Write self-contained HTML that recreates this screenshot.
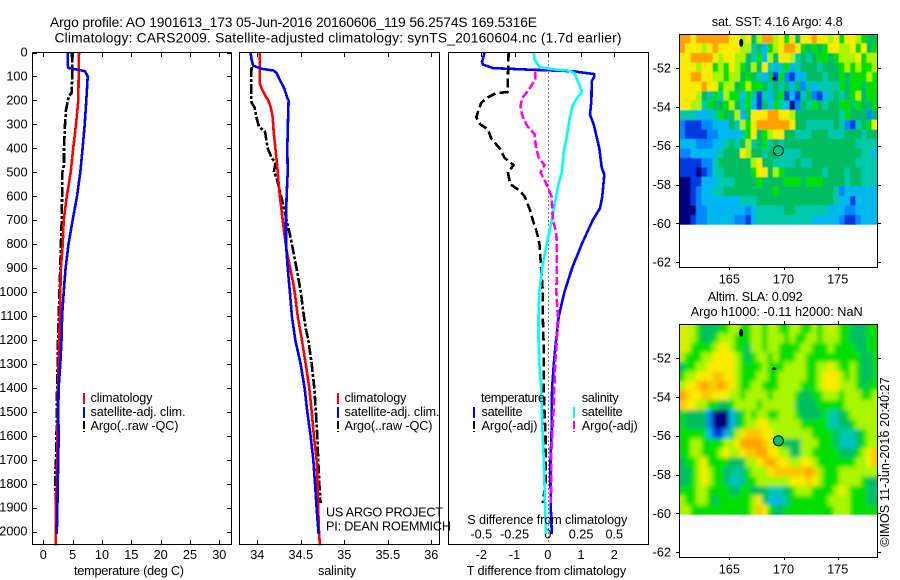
<!DOCTYPE html>
<html lang="en">
<head>
<meta charset="utf-8">
<title>Argo profile 1901613_173</title>
<style>
html,body{margin:0;padding:0;background:#fff;width:900px;height:580px;overflow:hidden}
svg{display:block}
text{font-family:"Liberation Sans",Arial,sans-serif;font-size:12.7px;fill:#000}
.title{font-size:13.8px}
</style>
</head>
<body>
<svg id="chart" xmlns="http://www.w3.org/2000/svg" width="900" height="580" viewBox="0 0 900 580">
<defs>
<filter id="blur-sst" x="-5%" y="-5%" width="110%" height="110%"><feGaussianBlur stdDeviation="0.6"/></filter>
<filter id="blur-sla" x="-5%" y="-5%" width="110%" height="110%"><feGaussianBlur stdDeviation="2"/></filter>
<clipPath id="clip-sst"><rect x="679.5" y="34" width="198" height="190.6"/></clipPath>
<clipPath id="clip-sla"><rect x="679.5" y="324" width="198" height="190.6"/></clipPath>
</defs>
<rect x="0" y="0" width="900" height="580" fill="#fff"/>
<text class="title" x="50" y="27" textLength="487" lengthAdjust="spacing">Argo profile: AO 1901613_173 05-Jun-2016 20160606_119 56.2574S 169.5316E</text>
<text class="title" x="54.5" y="42.5" textLength="567" lengthAdjust="spacing">Climatology: CARS2009. Satellite-adjusted climatology: synTS_20160604.nc (1.7d earlier)</text>
<g id="lines-layer"></g>
<g id="maps-layer"></g>
<g id="text-layer">
<text x="74" y="575" textLength="110" lengthAdjust="spacing">temperature (deg C)</text>
<text x="318" y="575" textLength="38" lengthAdjust="spacing">salinity</text>
<text x="466.7" y="575" textLength="159.5" lengthAdjust="spacing">T difference from climatology</text>
<text x="467.3" y="524" textLength="160" lengthAdjust="spacing">S difference from climatology</text>
<text x="90.5" y="402" textLength="62" lengthAdjust="spacing">climatology</text>
<text x="90.5" y="416" textLength="95" lengthAdjust="spacing">satellite-adj. clim.</text>
<text x="90.5" y="430" textLength="88" lengthAdjust="spacing">Argo(..raw -QC)</text>
<text x="344.5" y="402" textLength="62" lengthAdjust="spacing">climatology</text>
<text x="344.5" y="416" textLength="95" lengthAdjust="spacing">satellite-adj. clim.</text>
<text x="344.5" y="430" textLength="88" lengthAdjust="spacing">Argo(..raw -QC)</text>
<text x="481" y="402" textLength="64" lengthAdjust="spacing">temperature</text>
<text x="481.5" y="416" textLength="41" lengthAdjust="spacing">satellite</text>
<text x="481.5" y="430" textLength="56" lengthAdjust="spacing">Argo(-adj)</text>
<text x="581.7" y="402" textLength="37" lengthAdjust="spacing">salinity</text>
<text x="581.7" y="416" textLength="41" lengthAdjust="spacing">satellite</text>
<text x="581.7" y="430" textLength="56" lengthAdjust="spacing">Argo(-adj)</text>
<text x="326" y="516.7" textLength="117" lengthAdjust="spacing">US ARGO PROJECT</text>
<text x="326" y="530.7" textLength="125" lengthAdjust="spacing">PI: DEAN ROEMMICH</text>
<text x="711.7" y="26" textLength="131" lengthAdjust="spacing">sat. SST: 4.16 Argo: 4.8</text>
<text x="707.7" y="301" textLength="95" lengthAdjust="spacing">Altim. SLA: 0.092</text>
<text x="690.7" y="316" textLength="172" lengthAdjust="spacing">Argo h1000: -0.11 h2000: NaN</text>
<text transform="translate(889,546.7) rotate(-90)" x="0" y="0" textLength="169.5" lengthAdjust="spacing">©IMOS 11-Jun-2016 20:40:27</text>
</g>
</svg>
<script>
const depthTicks = [0,100,200,300,400,500,600,700,800,900,1000,1100,1200,1300,1400,1500,1600,1700,1800,1900,2000];
const tempTicks = [0,5,10,15,20,25,30];
const salTicks = [34,34.5,35,35.5,36];
const tDiffTicks = [-2,-1,0,1,2];
const sDiffTicks = [-0.5,-0.25,0,0.25,0.5];
const latTicks = [-52,-54,-56,-58,-60,-62];
const lonTicks = [165,170,175];

const tempClimDepth = [0,100,200,300,400,500,600,700,800,900,1000,1100,1200,1300,1400,1500,1600,1700,1800,1900,2000,2057];
const tempClim = [6.08,6.02,5.97,5.57,5.1,4.67,4.0,3.47,3.3,3.0,2.9,2.85,2.7,2.6,2.5,2.45,2.4,2.35,2.3,2.12,2.15,2.15];
const tempSatDepth = [0,50,65,72,78,100,150,200,300,400,500,600,700,800,900,1000,1100,1200,1300,1400,1500,1600,1700,1800,1900,2010];
const tempSat = [4.21,4.15,4.3,5.98,7.1,7.56,7.45,7.33,7.05,6.7,6.3,5.74,5.0,4.3,3.8,3.47,3.2,3.1,2.9,2.6,2.55,2.6,2.55,2.45,2.4,2.3];
const tempArgoDepth = [0,100,170,180,200,240,300,400,470,500,540,600,700,800,900,1000,1100,1200,1300,1400,1500,1600,1700,1750,1850,1880];
const tempArgo = [4.9,4.95,4.8,4.4,4.2,3.87,3.7,3.53,3.53,3.25,3.2,3.2,3.13,3.0,2.9,2.75,2.65,2.5,2.45,2.35,2.3,2.25,2.16,2.05,2.1,2.1];

const salClimDepth = [0,130,150,178,200,227,268,338,408,477,547,616,686,755,825,895,964,1000,1100,1200,1300,1400,1500,1600,1700,1800,1900,2000,2057];
const salClim = [34.03,34.03,34.05,34.088,34.126,34.153,34.176,34.19,34.21,34.23,34.245,34.264,34.287,34.31,34.337,34.375,34.414,34.43,34.464,34.513,34.556,34.598,34.625,34.651,34.682,34.693,34.7,34.709,34.72];
const salSatDepth = [0,30,55,68,75,85,115,150,190,200,300,400,500,600,700,800,900,1000,1100,1200,1300,1400,1500,1600,1700,1800,1900,2010];
const salSat = [33.923,33.935,33.954,34.05,34.184,34.222,34.26,34.31,34.345,34.36,34.352,34.345,34.349,34.337,34.33,34.33,34.349,34.375,34.398,34.437,34.498,34.544,34.575,34.613,34.644,34.663,34.682,34.705];
const salArgoDepth = [60,100,190,210,230,270,310,330,400,440,460,500,520,580,640,700,780,900,1000,1100,1150,1200,1300,1400,1500,1600,1700,1800,1880];
const salArgo = [33.935,33.93,33.93,33.935,33.97,33.99,34.02,34.088,34.12,34.165,34.21,34.19,34.22,34.26,34.3,34.337,34.387,34.45,34.5,34.536,34.556,34.586,34.625,34.655,34.674,34.69,34.7,34.713,34.728];

const dTSatDepth = [0,40,50,65,72,78,90,100,120,200,260,300,400,480,510,600,650,700,800,900,1000,1100,1200,1300,1400,1500,1600,1700,1800,1900,2010];
const dTSat = [-1.9,-1.98,-1.95,-1.65,-0.45,0.75,1.4,1.4,1.32,1.31,1.27,1.38,1.55,1.62,1.7,1.64,1.57,1.35,1.02,0.73,0.5,0.33,0.25,0.18,0.13,0.12,0.11,0.08,0.08,0.09,0.12];
const dTArgoDepth = [0,100,165,170,190,210,240,270,300,320,360,400,440,470,500,550,575,600,660,700,750,800,900,1000,1100,1200,1300,1400,1500,1600,1700,1800,1880];
const dTArgo = [-1.18,-1.2,-1.2,-1.55,-1.85,-2.0,-2.08,-2.15,-2.03,-1.8,-1.7,-1.45,-1.3,-1.03,-1.2,-1.13,-0.85,-0.7,-0.53,-0.45,-0.33,-0.25,-0.2,-0.15,-0.15,-0.13,-0.12,-0.12,-0.1,-0.07,-0.07,-0.07,-0.15];
const dSSatDepth = [0,30,60,70,75,85,130,165,185,220,280,350,420,500,550,600,700,800,900,1000,1100,1200,1300,1400,1500,1600,1700,1800,1900,2010];
const dSSat = [-0.105,-0.1,-0.063,0.038,0.15,0.2,0.233,0.258,0.226,0.188,0.163,0.143,0.118,0.105,0.08,0.063,0.03,-0.008,-0.043,-0.063,-0.07,-0.07,-0.063,-0.05,-0.045,-0.038,-0.03,-0.025,-0.02,-0.0125];
const dSArgoDepth = [80,110,140,170,190,225,260,280,310,340,400,440,470,500,540,570,600,700,750,800,900,1000,1100,1200,1300,1400,1500,1600,1700,1800,1880];
const dSArgo = [-0.093,-0.093,-0.125,-0.163,-0.193,-0.205,-0.193,-0.18,-0.15,-0.1,-0.088,-0.068,-0.025,-0.055,-0.018,0.005,0.028,0.038,0.063,0.068,0.068,0.065,0.075,0.068,0.055,0.05,0.043,0.033,0.025,0.025,0.023];

const sstGrid = [
[9,9,8,9,9,9,9,9,9,8, 8,7,8,5,7,9,9,7,8,6, 8,5,8,8,9,8,8,7,8,6, 8,8,7,6,5,5],
[9,8,8,8,7,8,9,8,8,8, 8,7,7,4,5,3,6,7,8,9, 9,8,6,5,6,5,6,8,8,7, 7,8,6,8,5,6],
[8,8,9,9,9,9,8,7,8,8, 7,7,5,4,6,3,7,5,8,8, 7,4,5,4,5,6,6,5,6,7, 7,7,8,6,7,7],
[8,8,8,7,8,8,6,7,6,8, 7,6,5,7,5,8,4,3,4,6, 3,4,5,5,5,4,5,5,5,6, 7,6,7,6,6,7],
[8,8,9,9,8,8,7,7,6,7, 7,5,6,5,4,3,5,1,6,2, 1,3,3,5,5,5,4,5,5,6, 5,6,6,6,7,6],
[8,8,8,8,9,8,8,6,7,7, 5,6,7,6,6,5,4,5,4,5, 3,5,2,4,3,4,4,4,4,6, 5,6,6,5,6,6],
[8,8,8,7,5,4,6,4,7,6, 6,3,6,4,1,4,3,5,6,1, 3,1,4,5,2,1,3,4,5,4, 5,6,7,5,6,6],
[8,8,7,7,4,6,5,5,6,7, 5,4,6,3,1,5,3,6,4,3, 0,2,5,4,6,5,4,5,5,6, 6,5,6,5,5,6],
[4,4,4,3,3,3,4,6,5,5, 7,3,5,8,8,8,9,9,8,8, 7,5,5,5,5,5,5,5,5,4, 6,5,5,5,2,5],
[2,1,1,1,2,2,3,3,3,5, 4,7,6,8,9,9,9,9,9,9, 8,5,5,4,4,4,4,4,5,4, 2,1,4,5,6,8],
[2,1,1,1,1,2,2,3,3,3, 3,4,6,8,5,6,7,8,8,5, 5,4,4,4,5,5,5,4,4,4, 5,5,5,4,5,5],
[3,3,3,2,2,2,3,3,4,5, 4,5,7,4,5,6,4,5,4,5, 5,5,5,5,5,5,5,5,5,5, 5,5,4,4,4,4],
[2,2,3,3,3,3,3,4,5,5, 5,8,7,5,5,4,5,5,4,4, 4,4,5,5,5,5,5,5,5,5, 5,5,5,4,4,3],
[1,1,1,1,2,2,4,5,5,5, 5,5,5,7,8,5,5,4,4,4, 4,5,4,4,5,5,5,5,5,5, 5,5,4,4,4,4],
[1,1,1,0,1,2,4,4,5,5, 5,5,5,6,8,8,5,7,6,5, 5,5,5,5,5,5,4,5,5,5, 4,5,5,4,4,4],
[0,0,1,1,3,3,3,4,4,4, 5,5,5,5,6,5,5,5,5,6, 6,6,5,6,6,6,5,5,5,5, 4,5,5,4,4,4],
[0,0,1,2,3,3,4,4,5,5, 5,5,5,5,5,5,5,6,5,5, 5,5,5,5,5,5,5,5,4,2, 3,3,3,3,3,3],
[0,0,1,2,3,3,3,3,3,3, 3,4,4,4,5,5,5,5,5,5, 5,5,5,5,5,5,5,5,4,3, 3,1,3,3,3,3],
[0,0,0,2,2,3,3,3,3,3, 3,3,2,3,4,4,4,4,4,5, 5,4,4,4,4,4,4,3,3,3, 2,2,3,3,3,3],
[0,0,1,2,2,3,3,3,3,3, 2,2,1,3,4,4,4,4,4,4, 4,4,4,4,3,3,3,3,3,2, 1,1,2,3,3,3]
];
const slaGrid = [
[7.5,7.5,7,6,5,5,5,6,6,7, 7,6,6,7,7,6,7,7,6,6, 7,7,6,6,7,6,7,7.5,7,6, 6,5,5,5,6,6],
[7.5,7.5,7,6,5,5,6,7,7,7, 6,6,6,7,7,6,7,7,7,6, 7,6,6,7,7,6,7,7,7,6, 6,5,5,5,6,6],
[7.5,7.5,6,6,6,6,7,8,8,7, 6,6,5,7,7,6,7,7,6,6, 6,6,7,7,6,6,6,7,6,6, 6,6,5,5,6,6],
[7,6,6,6,7,7,8,8,8,8, 7,6,5,6,7,7,6,7,6,6, 6,7,7,6,6,6,6,6,6,6, 6,6,6,5,5,6],
[5,6,6,7,7,8,8,8,8,8, 7,6,6,6,6,7,6,6,6,7, 7,7,7,6,6,7,7,8,7,6, 6,7,6,5,5,6],
[6,7,7,8,8,8,8.5,8.5,8,8, 7,6,6,6,7,7,6,6,7,7, 7,7,7,6,6,7,8,8,8,7, 6,7,6,5,5,6],
[7,8,8,8.5,9,8.5,8.5,9,8.5,8, 7,6,6,7,7,6,6,6,7,7, 7,7,6,6,6,7,8,8,8,7, 7,7,6,5,6,6],
[9,8.5,8,8,8.5,8.5,8,8,8,7, 7,6,7,7,7,7,6,7,7,7, 7,6,5,5,6,6,7,7,7,6, 7,7,7,6,6,7],
[8.5,8,8,7,7,6,6,5,5,6, 7,7,7,7,6,7,7,7,7,7, 7,5,5,5,5,6,6,6,6,6, 7,7,7,7,7,7],
[6,5,5,5,5,2,0,0,0,3, 5,6,7,6,7,7,6,6,7,7, 7,6,5,5,5,5,6,4,4,5, 6,7,7,7,7,7],
[6,5,5,5,5,2,0,0,0,3, 5,6,7,7,8,8,7,7,7,7, 7,7,6,6,6,6,6,4,4,5, 5,6,7,7,7,7],
[6,6,6,6,6,3,1,1,3,5, 7,8,8.5,8.5,8.5,8,8,7,7,7, 7,7,7,7,6,6,6,6,5,4, 4,4,5,6,7,7],
[6,6,7,7,6,6,6,6,7,7, 8,9,9,9,9,8.5,8,7,6,5, 5,5,7,7,7,6,6,6,5,4, 3.5,3.5,5,6,7,7],
[6,6,7,7,6,6,6,7,8,7, 7,8,8.5,8.5,9,9,8,8,7,7, 5,5,7,7,6,6,6,6,6,5, 5,5,6,7,8,8.5],
[5,6,6,7,8,6,6,6,6,5, 5,5,7,7,8,8.5,9,8.5,8,8, 7,7,8,8,7,6,6,6,6,6, 6,6,7,7,8,8.5],
[5,5,6,7,8,7,6,6,5,4.5, 4,4.5,6,7,7,7,8,8.5,8.5,8.5, 8.5,8.5,8.5,9,8.5,7,6,6,6,7, 7,7,7,7,7,7],
[5,5,6,7,8,7,6,6,5,4, 3.5,4.5,6,6,7,7,7,7,7,7, 8,8,8,8.5,8,7,6,6,6,7, 7,7,7,6,5,5],
[6,6,6,7,7,6,6,6,6,5, 5,6,6,5,5,5,4,4,4,5, 6,7,7,7,6,6,6,6,7,8, 7,6,6,6,5,4.5],
[7,6,6,7,7,6,5,6,6,6, 6,6,6,7,8,5,3.5,3,3.5,4.5, 6,6,6,6,6,6,6,7,7,7, 7,6,6,6,5,5],
[7,7,6,6,6,6,6,6,6,6, 6,6,6,7,8.5,8,6,5,5,6, 6,6,6,6,6,6,6,6,7,7, 7,6,6,6,6,6]
];
const argoPosition = [169.53,-56.26];
const islandA = [166.1,-50.7];
const islandB = [169.15,-52.55];

const NS = 'http://www.w3.org/2000/svg';
const linesLayer = document.getElementById('lines-layer');
const mapsLayer = document.getElementById('maps-layer');

function yDepth(d){ return 52.5 + 0.2396*d; }
function xTemp(v){ return 43.3 + 5.867*v; }
function xSal(v){ return 257.3 + 87*(v-34); }
function xDT(v){ return 547.8 + 33.25*v; }
function xDS(v){ return 547.8 + 133*v; }
function lonX(v){ return 729.3 + 10.84*(v-165); }
function latY(v,off){ return 68 + 19.42*(-52-v) + off; }

function make(parent,tag,attrs){
  const el = document.createElementNS(NS,tag);
  for(const k in attrs){ el.setAttribute(k,attrs[k]); }
  parent.appendChild(el);
  return el;
}
function frame(parent,name,x,y,w,h){
  const el = make(parent,'rect',{x:x,y:y,width:w,height:h,fill:'none',stroke:'#000','stroke-width':1,'shape-rendering':'crispEdges'});
  
  
}
function tick(parent,x1,y1,x2,y2){
  const el = make(parent,'line',{x1:x1,y1:y1,x2:x2,y2:y2,stroke:'#000','stroke-width':1,'shape-rendering':'crispEdges'});
  
  
}
function label(parent,x,y,anchor,str){
  const el = make(parent,'text',{x:x,y:y,'text-anchor':anchor});
  el.textContent = str;
  
  
}
function profile(parent,name,depths,values,xFn,color,dash){
  const pts = values.map(function(v,i){ return xFn(v).toFixed(1)+','+yDepth(depths[i]).toFixed(1); }).join(' ');
  const attrs = {points:pts,fill:'none',stroke:color,'stroke-width':2.6,'stroke-linejoin':'round','shape-rendering':'crispEdges'};
  if(dash){ attrs['stroke-dasharray'] = dash; }
  const el = make(parent,'polyline',attrs);
  
  
}
function legendMark(parent,name,x,y,color,dash){
  const attrs = {x1:x,y1:y,x2:x,y2:y+11,stroke:color,'stroke-width':2,'shape-rendering':'crispEdges'};
  if(dash){ attrs['stroke-dasharray'] = dash; }
  const el = make(parent,'line',attrs);
  
  
}

const BLACK_DASH = '10 2 3 2';
const BLACK_DASH_DIFF = '9 4';
const MAG_DASH = '8 3';

/* temperature panel */
depthTicks.forEach(function(d){
  tick(linesLayer,32.5,Math.round(yDepth(d))+0.5,37,Math.round(yDepth(d))+0.5);
  tick(linesLayer,227,Math.round(yDepth(d))+0.5,231.5,Math.round(yDepth(d))+0.5);
  label(linesLayer,27.5,yDepth(d)+4,'end',String(d));
});
tempTicks.forEach(function(v){
  const x = Math.round(xTemp(v))+0.5;
  tick(linesLayer,x,52.5,x,57);
  tick(linesLayer,x,540,x,544.5);
  label(linesLayer,xTemp(v),559,'middle',String(v));
});
profile(linesLayer,'temperature-argo-line',tempArgoDepth,tempArgo,xTemp,'#000',BLACK_DASH);
profile(linesLayer,'temperature-climatology-line',tempClimDepth,tempClim,xTemp,'#f00',null);
profile(linesLayer,'temperature-satellite-line',tempSatDepth,tempSat,xTemp,'#00f',null);
frame(linesLayer,'temperature-panel-frame',32.5,52.5,199,492);
legendMark(linesLayer,'temperature-legend-climatology-marker',84,393,'#f00',null);
legendMark(linesLayer,'temperature-legend-satellite-marker',84,407,'#00f',null);
legendMark(linesLayer,'temperature-legend-argo-marker',84,421,'#000','8 2');

/* salinity panel */
salTicks.forEach(function(v){
  const x = Math.round(xSal(v))+0.5;
  tick(linesLayer,x,52.5,x,57);
  tick(linesLayer,x,540,x,544.5);
  label(linesLayer,xSal(v),559,'middle',String(v));
});
profile(linesLayer,'salinity-argo-line',salArgoDepth,salArgo,xSal,'#000',BLACK_DASH);
profile(linesLayer,'salinity-climatology-line',salClimDepth,salClim,xSal,'#f00',null);
profile(linesLayer,'salinity-satellite-line',salSatDepth,salSat,xSal,'#00f',null);
frame(linesLayer,'salinity-panel-frame',239.5,52.5,200,492);
legendMark(linesLayer,'salinity-legend-climatology-marker',338,393,'#f00',null);
legendMark(linesLayer,'salinity-legend-satellite-marker',338,407,'#00f',null);
legendMark(linesLayer,'salinity-legend-argo-marker',338,421,'#000','8 2');

/* difference panel */
tDiffTicks.forEach(function(v){
  const x = Math.round(xDT(v))+0.5;
  tick(linesLayer,x,52.5,x,57);
  label(linesLayer,xDT(v),559,'middle',String(v));
});
sDiffTicks.forEach(function(v){
  label(linesLayer,xDS(v),538.7,'middle',String(v));
});
const zeroLine = make(linesLayer,'line',{x1:548.5,y1:52.5,x2:548.5,y2:544.5,stroke:'#000','stroke-width':1,'stroke-dasharray':'1 3','shape-rendering':'crispEdges'});


profile(linesLayer,'t-difference-satellite-line',dTSatDepth,dTSat,xDT,'#00f',null);
profile(linesLayer,'t-difference-argo-line',dTArgoDepth,dTArgo,xDT,'#000',BLACK_DASH_DIFF);
profile(linesLayer,'s-difference-satellite-line',dSSatDepth,dSSat,xDS,'#0ff',null);
profile(linesLayer,'s-difference-argo-line',dSArgoDepth,dSArgo,xDS,'#f0f',MAG_DASH);
frame(linesLayer,'difference-panel-frame',448.5,52.5,200,492);
legendMark(linesLayer,'difference-legend-t-satellite-marker',474,407,'#00f',null);
legendMark(linesLayer,'difference-legend-t-argo-marker',474,421,'#000','8 2');
legendMark(linesLayer,'difference-legend-s-satellite-marker',574,407,'#0ff',null);
legendMark(linesLayer,'difference-legend-s-argo-marker',574,421,'#f0f','8 2');

/* maps */
const colorStops = [[0,0,128],[0,56,225],[0,136,255],[0,184,240],[0,200,170],[0,190,96],[0,224,0],[170,245,0],[250,235,0],[255,160,0]];
function levelColor(v){
  const i = Math.min(Math.floor(v),8);
  const f = v-i;
  const a = colorStops[i];
  const b = colorStops[i+1];
  return 'rgb('+[0,1,2].map(function(k){ return Math.round(a[k]+(b[k]-a[k])*f); }).join(',')+')';
}
function drawMap(prefix,grid,off){
  const g = make(mapsLayer,'g',{});
  
  
  const clip = make(g,'g',{'clip-path':'url(#clip-'+prefix+')'});
  
  
  const cells = make(clip,'g',{id:prefix+'-cells'});
  
  
  const cols = grid[0].length;
  const rows = grid.length;
  const cw = 198/cols;
  const ch = 190.6/rows;
  grid.forEach(function(row,r){
    row.forEach(function(v,c){
      const cell = make(cells,'rect',{x:(679.5+c*cw).toFixed(2),y:(34+off+r*ch).toFixed(2),width:(cw+0.4).toFixed(2),height:(ch+0.4).toFixed(2),fill:levelColor(v),'shape-rendering':'crispEdges'});
      
      
    });
  });
  const smooth = make(clip,'use',{href:'#'+prefix+'-cells',filter:'url(#blur-'+prefix+')'});
  
  
  latTicks.forEach(function(lat){
    const y = Math.round(latY(lat,off))+0.5;
    tick(g,676,y,679.5,y);
    tick(g,877.5,y,881,y);
    label(g,671,latY(lat,off)+4.5,'end',String(lat));
  });
  lonTicks.forEach(function(lon){
    const x = Math.round(lonX(lon))+0.5;
    tick(g,x,31+off,x,34.5+off);
    tick(g,x,267.5+off,x,270+off);
    label(g,lonX(lon),283.7+off,'middle',String(lon));
  });
  frame(g,prefix+'-map-frame',679.5,34.5+off,198,233);
  const isA = make(g,'ellipse',{cx:lonX(islandA[0]),cy:latY(islandA[1],off),rx:2,ry:4,fill:'#000'});
  
  
  const isB = make(g,'ellipse',{cx:lonX(islandB[0]),cy:latY(islandB[1],off),rx:2,ry:1.5,fill:'#000'});
  
  
  const pos = make(g,'circle',{cx:lonX(argoPosition[0]),cy:latY(argoPosition[1],off),r:5,fill:levelColor(prefix==='sst'?4.5:5),stroke:'#000','stroke-width':1});
  
  
}
drawMap('sst',sstGrid,0);
drawMap('sla',slaGrid,290);
</script>
</body>
</html>
